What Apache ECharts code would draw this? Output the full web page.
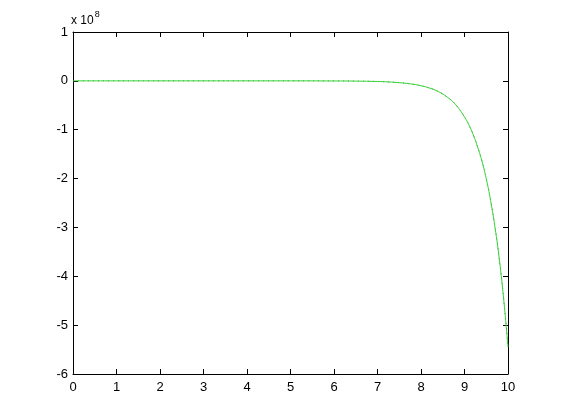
<!DOCTYPE html>
<html>
<head>
<meta charset="utf-8">
<script src="https://cdn.jsdelivr.net/npm/echarts@6/dist/echarts.min.js"></script>
<style>
  html, body { margin: 0; padding: 0; background: #fff; }
  #chart { width: 561px; height: 420px; }
</style>
</head>
<body>
<div id="chart"></div>
<script>
// values, y in units of 1e8
var xVals = [0, 1, 2, 3, 4, 5, 6, 6.5, 7, 7.25, 7.5, 7.75, 8, 8.2, 8.4, 8.6, 8.8, 9, 9.1, 9.2, 9.3, 9.4, 9.5, 9.6, 9.7, 9.8, 9.9, 10];
var yVals = [0, 0, 0, 0, 0, 0, -0.002, -0.005, -0.013, -0.022, -0.037, -0.061, -0.10, -0.149, -0.22, -0.33, -0.49, -0.74, -0.90, -1.10, -1.35, -1.64, -2.0, -2.45, -2.99, -3.65, -4.46, -5.45];
var xTicks = [0, 1, 2, 3, 4, 5, 6, 7, 8, 9, 10];
var yTicks = [-6, -5, -4, -3, -2, -1, 0, 1];

var pts = xVals.map(function (x, i) { return [x, yVals[i]]; });

var font = 'Liberation Sans, Arial, sans-serif';
var axisCommon = {
    type: 'value',
    axisLine: { show: true, onZero: false, lineStyle: { color: '#000', width: 1 } },
    axisTick: { show: true, inside: true, length: 5, lineStyle: { color: '#000' } },
    splitLine: { show: false }
};

var myChart = echarts.init(document.getElementById('chart'));
var option = {
    animation: false,
    backgroundColor: '#fff',
    grid: { left: 73, right: 53, top: 32, bottom: 46, containLabel: false },
    xAxis: [
        Object.assign({}, axisCommon, {
            min: xTicks[0], max: xTicks[xTicks.length - 1], interval: 1, position: 'bottom',
            axisLabel: { color: '#000', fontSize: 13, fontFamily: font, margin: 7 }
        }),
        Object.assign({}, axisCommon, {
            min: xTicks[0], max: xTicks[xTicks.length - 1], interval: 1, position: 'top',
            axisLabel: { show: false }
        })
    ],
    yAxis: [
        Object.assign({}, axisCommon, {
            min: yTicks[0], max: yTicks[yTicks.length - 1], interval: 1, position: 'left',
            axisLabel: { color: '#000', fontSize: 13, fontFamily: font, margin: 5 }
        }),
        Object.assign({}, axisCommon, {
            min: yTicks[0], max: yTicks[yTicks.length - 1], interval: 1, position: 'right',
            axisLabel: { show: false }
        })
    ],
    graphic: [{
        type: 'text',
        left: 71,
        top: 10,
        style: {
            text: '{a|x 10}{b|8}',
            rich: {
                a: { fontSize: 12, fontFamily: font, fill: '#000', verticalAlign: 'bottom' },
                b: { fontSize: 9, fontFamily: font, fill: '#000', verticalAlign: 'top', padding: [0, 0, 8, 1] }
            }
        }
    }],
    series: [
        {
            type: 'line',
            data: pts,
            smooth: true,
            symbol: 'none',
            lineStyle: { color: '#000', width: 1, type: [1, 4], opacity: 0.6 },
            z: 2
        },
        {
            type: 'line',
            data: pts,
            smooth: true,
            symbol: 'none',
            lineStyle: { color: '#33d633', width: 1 },
            z: 3
        }
    ]
};
myChart.setOption(option);
</script>
</body>
</html>
